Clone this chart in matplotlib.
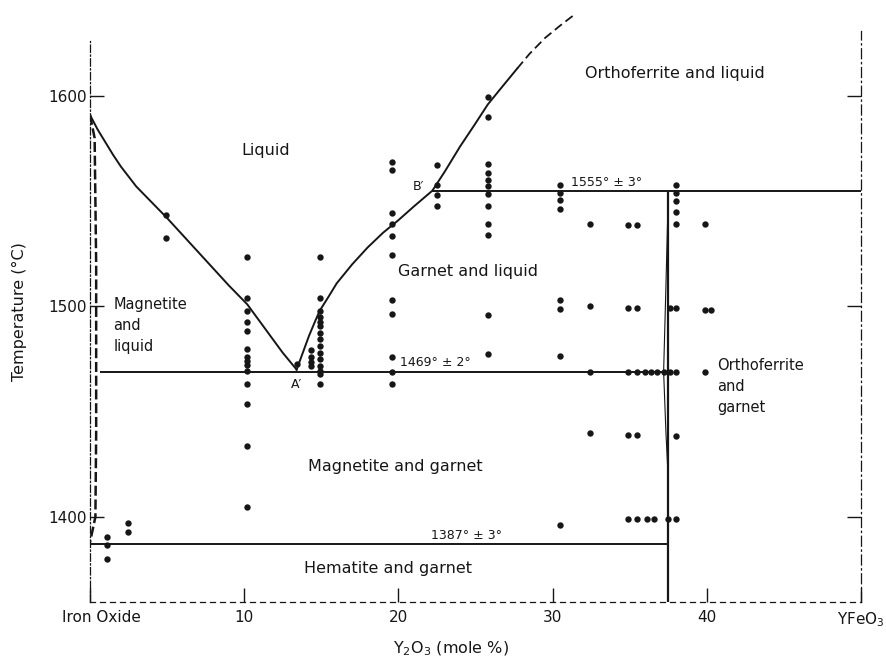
import matplotlib.pyplot as plt
from matplotlib.transforms import ScaledTranslation

# phase boundaries (mole % Y2O3, deg C)
liq_left_x = [0, 0.5, 1, 1.5, 2, 3, 4, 5, 6, 7.5, 9, 10.2, 11.5, 12.5, 13.4]
liq_left_t = [1591, 1584, 1578, 1572, 1566.5, 1557, 1549.5, 1542, 1534, 1522, 1510, 1501, 1488, 1478, 1470]
liq_right_x = [13.4, 13.8, 14.2, 14.6, 14.9, 15.5, 16, 17, 18, 19, 20, 21, 22.2,
               23, 24, 25, 25.8, 26.8, 27.7]
liq_right_t = [1470, 1478, 1486, 1493, 1498, 1505, 1511, 1520, 1528, 1535, 1541, 1547.5, 1555,
               1564, 1576, 1587, 1596, 1605, 1613]
liq_dash_x = [27.7, 28.5, 29.5, 30.5, 31.3]
liq_dash_t = [1613, 1620, 1627.5, 1633.5, 1638]
solvus_x = [0.0, 0.3, 0.4, 0.4, 0.35, 0.0]
solvus_t = [1591, 1580, 1520, 1440, 1400, 1388]
garnet_x = [37.5, 37.35, 37.2, 37.35, 37.5]
garnet_t = [1553, 1510, 1469, 1440, 1418]
iso_t = [1555, 1469, 1387]
iso_x0 = [22.2, 0.65, 0.0]
iso_x1 = [50.0, 37.8, 37.5]
garnet_line_x = 37.5

# experimental points, grouped by composition
dot_cols = [1.1, 2.45, 4.9, 10.2, 13.4, 14.3, 14.9, 19.6, 22.5, 25.8, 30.5, 32.4,
            34.9, 35.5, 36.0, 36.1, 36.4, 36.6, 36.8, 37.2, 37.5, 37.6, 38.0, 39.9, 40.3]
dot_temps = [
    [1390.5, 1386.5, 1380],
    [1397, 1392.7],
    [1543.5, 1532.5],
    [1523.5, 1504, 1498, 1492.5, 1488.5, 1480, 1476, 1474, 1472, 1469.5, 1463, 1453.5, 1433.5, 1404.5],
    [1472.5],
    [1479.5, 1476, 1473.5, 1471.5],
    [1523.5, 1504, 1498, 1495, 1492.5, 1490.5, 1487.5, 1484.5, 1481, 1478, 1475, 1471.5, 1469.5, 1468, 1463],
    [1568.5, 1565, 1544.5, 1539, 1533.5, 1524.5, 1503, 1496.5, 1476, 1469, 1463],
    [1567, 1557.5, 1553, 1547.5],
    [1599.5, 1590, 1567.5, 1563.5, 1560, 1557, 1553.5, 1547.5, 1539, 1534, 1496, 1477.5],
    [1557.5, 1554, 1550.5, 1546.5, 1503, 1499, 1476.5, 1396],
    [1539, 1500, 1469, 1440],
    [1538.5, 1499.5, 1469, 1439, 1399],
    [1538.5, 1499.5, 1469, 1439, 1399],
    [1469],
    [1399],
    [1469],
    [1399],
    [1469],
    [1469],
    [1399],
    [1499.5, 1469],
    [1557.5, 1554, 1550, 1545, 1539, 1499.5, 1469, 1438.5, 1399],
    [1539, 1498.5, 1469],
    [1498.5],
]

x_ticks = [0, 10, 20, 30, 40, 50]
x_labels = ['Iron Oxide', '10', '20', '30', '40', 'YFeO$_3$']
y_ticks = [1400, 1500, 1600]
y_labels = ['1400', '1500', '1600']

ink = '#161616'

fig = plt.figure(figsize=(8.87, 6.59), dpi=100)
ax = fig.add_axes([90 / 887, 1 - 602 / 659, 771 / 887, 602 / 659])
ax.set_xlim(0, 50)
ax.set_ylim(1359.6, 1645.6)

# boundaries
ax.plot(liq_left_x, liq_left_t, color=ink, lw=1.4, solid_joinstyle='round')
ax.plot(liq_right_x, liq_right_t, color=ink, lw=1.4, solid_joinstyle='round')
ax.plot(liq_dash_x, liq_dash_t, color=ink, lw=1.3, ls=(0, (5, 2.5)))
ax.plot(solvus_x, solvus_t, color=ink, lw=1.8, ls=(0, (4, 1.5)))
ax.plot(garnet_x, garnet_t, color=ink, lw=0.8)
ax.vlines(garnet_line_x, 1359.6, 1555, color=ink, lw=1.6)
ax.hlines(iso_t, iso_x0, iso_x1, color=ink, lw=1.4)

# points
xs, ts = [], []
for c, temps in zip(dot_cols, dot_temps):
    xs += [c] * len(temps)
    ts += temps
ax.scatter(xs, ts, s=21, color=ink, linewidths=0, zorder=3)

# field labels
fs = 11.5
ax.text(11.4, 1574.3, 'Liquid', fontsize=fs, ha='center', va='center', color=ink)
ax.text(37.9, 1610.9, 'Orthoferrite and liquid', fontsize=fs, ha='center', va='center', color=ink)
ax.text(24.5, 1516.4, 'Garnet and liquid', fontsize=fs, ha='center', va='center', color=ink)
ax.text(1.5, 1491.0, 'Magnetite\nand\nliquid', fontsize=fs - 1, ha='left', va='center',
        linespacing=1.5, color=ink)
ax.text(40.66, 1461.8, 'Orthoferrite\nand\ngarnet', fontsize=fs - 1, ha='left', va='center',
        linespacing=1.5, color=ink)
ax.text(19.8, 1423.8, 'Magnetite and garnet', fontsize=fs, ha='center', va='center', color=ink)
ax.text(19.3, 1375.3, 'Hematite and garnet', fontsize=fs, ha='center', va='center', color=ink)

ax.text(33.5, 1558.7, '1555° ± 3°', fontsize=9, ha='center', va='center', color=ink)
ax.text(22.4, 1473.6, '1469° ± 2°', fontsize=9, ha='center', va='center', color=ink)
ax.text(24.4, 1391.0, '1387° ± 3°', fontsize=9, ha='center', va='center', color=ink)
ax.text(21.3, 1557.0, "B′", fontsize=9, ha='center', va='center', color=ink)
ax.text(13.4, 1462.7, "A′", fontsize=9, ha='center', va='center', color=ink)

# frame
ax.spines['top'].set_visible(False)
ax.spines['left'].set_linestyle((0, (6, 2, 1, 2)))
ax.spines['left'].set_bounds(1359.6, 1626)
ax.spines['right'].set_linestyle((0, (8, 3, 1, 3)))
ax.spines['right'].set_bounds(1359.6, 1631)
ax.spines['bottom'].set_linestyle((0, (4, 4)))
for s in ['left', 'right', 'bottom']:
    ax.spines[s].set_linewidth(0.9)
    ax.spines[s].set_color(ink)

ax.set_xticks(x_ticks)
ax.set_xticklabels(x_labels)
ax.set_yticks(y_ticks)
ax.set_yticklabels(y_labels)
ax.tick_params(axis='y', direction='in', length=10, width=1, left=True, right=True,
               labelsize=11, pad=2.5, colors=ink)
ax.tick_params(axis='x', direction='in', length=10, width=1, labelsize=11, pad=6, colors=ink)
lab0 = ax.get_xticklabels()[0]
lab0.set_transform(lab0.get_transform() + ScaledTranslation(0.11, 0, fig.dpi_scale_trans))

ax.set_ylabel('Temperature (°C)', fontsize=11.5, color=ink)
ax.yaxis.set_label_coords(-0.082, 0.483)
ax.set_xlabel('Y$_2$O$_3$ (mole %)', fontsize=11.5, color=ink)
ax.xaxis.set_label_coords(0.468, -0.062)

fig.savefig('out.png', dpi=100, facecolor='white')
